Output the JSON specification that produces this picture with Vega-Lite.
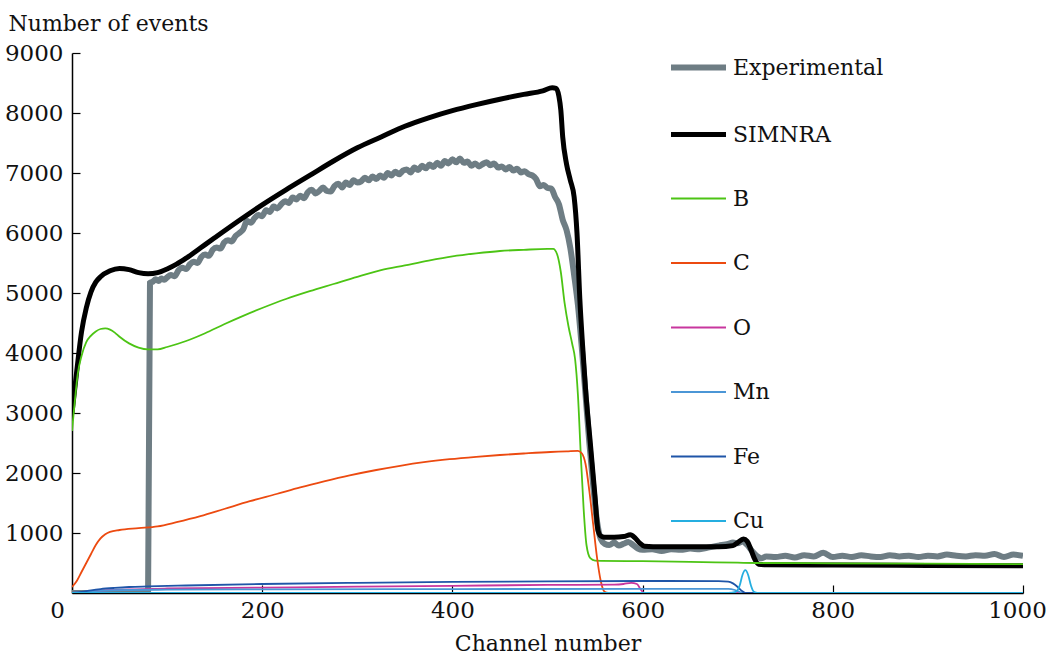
{
  "$schema": "https://vega.github.io/schema/vega-lite/v6.json",
  "width": 951,
  "height": 540,
  "autosize": "none",
  "padding": {"left": 72, "top": 53, "right": 28, "bottom": 63},
  "background": "white",
  "config": {
    "view": {"stroke": null},
    "font": "DejaVu Serif",
    "axis": {"grid": false, "domainColor": "#000000", "domainWidth": 1.5, "tickColor": "#000000", "tickWidth": 1.2, "labelFont": "DejaVu Serif", "labelFontSize": 23, "labelColor": "#111111", "titleFont": "DejaVu Serif", "titleFontSize": 22, "titleFontWeight": "normal", "titleColor": "#111111"},
    "legend": {"labelFont": "DejaVu Serif", "labelFontSize": 22, "labelColor": "#111111"}
  },
  "datasets": {
    "d": [
      {"s":"Experimental","x":0,"y":0},{"s":"Experimental","x":80,"y":0},{"s":"Experimental","x":82,"y":5170},{"s":"Experimental","x":85,"y":5190},{"s":"Experimental","x":88,"y":5230},{"s":"Experimental","x":91,"y":5200},{"s":"Experimental","x":94,"y":5240},{"s":"Experimental","x":97,"y":5220},{"s":"Experimental","x":100,"y":5260},{"s":"Experimental","x":104,"y":5300},{"s":"Experimental","x":108,"y":5280},{"s":"Experimental","x":112,"y":5380},{"s":"Experimental","x":116,"y":5420},{"s":"Experimental","x":120,"y":5400},{"s":"Experimental","x":124,"y":5480},{"s":"Experimental","x":128,"y":5520},{"s":"Experimental","x":132,"y":5500},{"s":"Experimental","x":136,"y":5600},{"s":"Experimental","x":140,"y":5640},{"s":"Experimental","x":144,"y":5620},{"s":"Experimental","x":148,"y":5720},{"s":"Experimental","x":152,"y":5760},{"s":"Experimental","x":156,"y":5740},{"s":"Experimental","x":160,"y":5840},{"s":"Experimental","x":164,"y":5880},{"s":"Experimental","x":168,"y":5860},{"s":"Experimental","x":172,"y":5950},{"s":"Experimental","x":176,"y":6000},{"s":"Experimental","x":180,"y":6060},{"s":"Experimental","x":184,"y":6200},{"s":"Experimental","x":188,"y":6170},{"s":"Experimental","x":192,"y":6250},{"s":"Experimental","x":196,"y":6300},{"s":"Experimental","x":200,"y":6280},{"s":"Experimental","x":204,"y":6380},{"s":"Experimental","x":208,"y":6350},{"s":"Experimental","x":212,"y":6440},{"s":"Experimental","x":216,"y":6410},{"s":"Experimental","x":220,"y":6480},{"s":"Experimental","x":224,"y":6530},{"s":"Experimental","x":228,"y":6500},{"s":"Experimental","x":232,"y":6590},{"s":"Experimental","x":236,"y":6560},{"s":"Experimental","x":240,"y":6620},{"s":"Experimental","x":244,"y":6580},{"s":"Experimental","x":248,"y":6680},{"s":"Experimental","x":252,"y":6720},{"s":"Experimental","x":256,"y":6660},{"s":"Experimental","x":260,"y":6700},{"s":"Experimental","x":264,"y":6760},{"s":"Experimental","x":268,"y":6700},{"s":"Experimental","x":272,"y":6690},{"s":"Experimental","x":276,"y":6780},{"s":"Experimental","x":280,"y":6820},{"s":"Experimental","x":284,"y":6760},{"s":"Experimental","x":288,"y":6840},{"s":"Experimental","x":292,"y":6800},{"s":"Experimental","x":296,"y":6880},{"s":"Experimental","x":300,"y":6840},{"s":"Experimental","x":304,"y":6860},{"s":"Experimental","x":308,"y":6920},{"s":"Experimental","x":312,"y":6880},{"s":"Experimental","x":316,"y":6940},{"s":"Experimental","x":320,"y":6900},{"s":"Experimental","x":324,"y":6960},{"s":"Experimental","x":328,"y":6920},{"s":"Experimental","x":332,"y":7000},{"s":"Experimental","x":336,"y":6960},{"s":"Experimental","x":340,"y":7020},{"s":"Experimental","x":344,"y":6980},{"s":"Experimental","x":348,"y":7040},{"s":"Experimental","x":352,"y":7060},{"s":"Experimental","x":356,"y":7010},{"s":"Experimental","x":360,"y":7090},{"s":"Experimental","x":364,"y":7050},{"s":"Experimental","x":368,"y":7120},{"s":"Experimental","x":372,"y":7080},{"s":"Experimental","x":376,"y":7140},{"s":"Experimental","x":380,"y":7100},{"s":"Experimental","x":384,"y":7170},{"s":"Experimental","x":388,"y":7120},{"s":"Experimental","x":392,"y":7200},{"s":"Experimental","x":396,"y":7160},{"s":"Experimental","x":400,"y":7230},{"s":"Experimental","x":404,"y":7180},{"s":"Experimental","x":408,"y":7240},{"s":"Experimental","x":412,"y":7170},{"s":"Experimental","x":416,"y":7190},{"s":"Experimental","x":420,"y":7120},{"s":"Experimental","x":424,"y":7160},{"s":"Experimental","x":428,"y":7110},{"s":"Experimental","x":432,"y":7150},{"s":"Experimental","x":436,"y":7180},{"s":"Experimental","x":440,"y":7130},{"s":"Experimental","x":444,"y":7160},{"s":"Experimental","x":448,"y":7090},{"s":"Experimental","x":452,"y":7110},{"s":"Experimental","x":456,"y":7060},{"s":"Experimental","x":460,"y":7100},{"s":"Experimental","x":464,"y":7040},{"s":"Experimental","x":468,"y":7070},{"s":"Experimental","x":472,"y":7010},{"s":"Experimental","x":476,"y":7030},{"s":"Experimental","x":480,"y":6980},{"s":"Experimental","x":484,"y":6960},{"s":"Experimental","x":488,"y":6900},{"s":"Experimental","x":492,"y":6780},{"s":"Experimental","x":496,"y":6800},{"s":"Experimental","x":500,"y":6750},{"s":"Experimental","x":504,"y":6740},{"s":"Experimental","x":508,"y":6600},{"s":"Experimental","x":512,"y":6480},{"s":"Experimental","x":516,"y":6220},{"s":"Experimental","x":520,"y":6050},{"s":"Experimental","x":524,"y":5750},{"s":"Experimental","x":528,"y":5300},{"s":"Experimental","x":532,"y":4800},{"s":"Experimental","x":536,"y":4100},{"s":"Experimental","x":540,"y":3300},{"s":"Experimental","x":544,"y":2500},{"s":"Experimental","x":548,"y":1800},{"s":"Experimental","x":552,"y":1200},{"s":"Experimental","x":556,"y":900},{"s":"Experimental","x":560,"y":820},{"s":"Experimental","x":565,"y":800},{"s":"Experimental","x":570,"y":840},{"s":"Experimental","x":575,"y":790},{"s":"Experimental","x":580,"y":820},{"s":"Experimental","x":585,"y":850},{"s":"Experimental","x":590,"y":800},{"s":"Experimental","x":595,"y":740},{"s":"Experimental","x":600,"y":720},{"s":"Experimental","x":610,"y":730},{"s":"Experimental","x":620,"y":700},{"s":"Experimental","x":630,"y":730},{"s":"Experimental","x":640,"y":720},{"s":"Experimental","x":650,"y":740},{"s":"Experimental","x":660,"y":730},{"s":"Experimental","x":670,"y":760},{"s":"Experimental","x":680,"y":790},{"s":"Experimental","x":690,"y":820},{"s":"Experimental","x":695,"y":840},{"s":"Experimental","x":700,"y":830},{"s":"Experimental","x":705,"y":860},{"s":"Experimental","x":710,"y":800},{"s":"Experimental","x":715,"y":700},{"s":"Experimental","x":720,"y":620},{"s":"Experimental","x":725,"y":580},{"s":"Experimental","x":730,"y":610},{"s":"Experimental","x":740,"y":600},{"s":"Experimental","x":750,"y":620},{"s":"Experimental","x":760,"y":590},{"s":"Experimental","x":770,"y":630},{"s":"Experimental","x":780,"y":610},{"s":"Experimental","x":790,"y":670},{"s":"Experimental","x":800,"y":600},{"s":"Experimental","x":810,"y":620},{"s":"Experimental","x":820,"y":600},{"s":"Experimental","x":830,"y":630},{"s":"Experimental","x":840,"y":610},{"s":"Experimental","x":850,"y":600},{"s":"Experimental","x":860,"y":630},{"s":"Experimental","x":870,"y":610},{"s":"Experimental","x":880,"y":620},{"s":"Experimental","x":890,"y":600},{"s":"Experimental","x":900,"y":620},{"s":"Experimental","x":910,"y":610},{"s":"Experimental","x":920,"y":640},{"s":"Experimental","x":930,"y":620},{"s":"Experimental","x":940,"y":610},{"s":"Experimental","x":950,"y":630},{"s":"Experimental","x":960,"y":620},{"s":"Experimental","x":970,"y":650},{"s":"Experimental","x":980,"y":600},{"s":"Experimental","x":990,"y":640},{"s":"Experimental","x":1000,"y":620},

      {"s":"SIMNRA","x":0,"y":3000},{"s":"SIMNRA","x":5,"y":3700},{"s":"SIMNRA","x":10,"y":4350},{"s":"SIMNRA","x":15,"y":4750},{"s":"SIMNRA","x":20,"y":5020},{"s":"SIMNRA","x":25,"y":5180},{"s":"SIMNRA","x":30,"y":5270},{"s":"SIMNRA","x":40,"y":5370},{"s":"SIMNRA","x":50,"y":5410},{"s":"SIMNRA","x":60,"y":5390},{"s":"SIMNRA","x":70,"y":5340},{"s":"SIMNRA","x":80,"y":5320},{"s":"SIMNRA","x":90,"y":5340},{"s":"SIMNRA","x":100,"y":5400},{"s":"SIMNRA","x":110,"y":5480},{"s":"SIMNRA","x":120,"y":5580},{"s":"SIMNRA","x":135,"y":5750},{"s":"SIMNRA","x":150,"y":5920},{"s":"SIMNRA","x":175,"y":6200},{"s":"SIMNRA","x":200,"y":6470},{"s":"SIMNRA","x":225,"y":6720},{"s":"SIMNRA","x":250,"y":6960},{"s":"SIMNRA","x":275,"y":7200},{"s":"SIMNRA","x":300,"y":7420},{"s":"SIMNRA","x":325,"y":7600},{"s":"SIMNRA","x":350,"y":7780},{"s":"SIMNRA","x":375,"y":7920},{"s":"SIMNRA","x":400,"y":8040},{"s":"SIMNRA","x":425,"y":8140},{"s":"SIMNRA","x":450,"y":8230},{"s":"SIMNRA","x":475,"y":8310},{"s":"SIMNRA","x":495,"y":8370},{"s":"SIMNRA","x":505,"y":8420},{"s":"SIMNRA","x":509,"y":8410},{"s":"SIMNRA","x":512,"y":8280},{"s":"SIMNRA","x":514,"y":8050},{"s":"SIMNRA","x":516,"y":7600},{"s":"SIMNRA","x":520,"y":7150},{"s":"SIMNRA","x":524,"y":6880},{"s":"SIMNRA","x":528,"y":6600},{"s":"SIMNRA","x":531,"y":6000},{"s":"SIMNRA","x":534,"y":4900},{"s":"SIMNRA","x":537,"y":4100},{"s":"SIMNRA","x":540,"y":3400},{"s":"SIMNRA","x":545,"y":2500},{"s":"SIMNRA","x":550,"y":1600},{"s":"SIMNRA","x":553,"y":1050},{"s":"SIMNRA","x":556,"y":950},{"s":"SIMNRA","x":560,"y":930},{"s":"SIMNRA","x":570,"y":930},{"s":"SIMNRA","x":580,"y":940},{"s":"SIMNRA","x":587,"y":970},{"s":"SIMNRA","x":592,"y":920},{"s":"SIMNRA","x":597,"y":830},{"s":"SIMNRA","x":602,"y":780},{"s":"SIMNRA","x":620,"y":770},{"s":"SIMNRA","x":650,"y":770},{"s":"SIMNRA","x":680,"y":770},{"s":"SIMNRA","x":695,"y":790},{"s":"SIMNRA","x":700,"y":840},{"s":"SIMNRA","x":706,"y":900},{"s":"SIMNRA","x":710,"y":860},{"s":"SIMNRA","x":714,"y":720},{"s":"SIMNRA","x":718,"y":560},{"s":"SIMNRA","x":722,"y":480},{"s":"SIMNRA","x":730,"y":470},{"s":"SIMNRA","x":800,"y":465},{"s":"SIMNRA","x":900,"y":460},{"s":"SIMNRA","x":1000,"y":455},

      {"s":"B","x":0,"y":2700},{"s":"B","x":3,"y":3200},{"s":"B","x":6,"y":3650},{"s":"B","x":10,"y":3950},{"s":"B","x":15,"y":4180},{"s":"B","x":20,"y":4290},{"s":"B","x":25,"y":4360},{"s":"B","x":30,"y":4400},{"s":"B","x":35,"y":4410},{"s":"B","x":40,"y":4390},{"s":"B","x":45,"y":4340},{"s":"B","x":50,"y":4270},{"s":"B","x":60,"y":4160},{"s":"B","x":70,"y":4090},{"s":"B","x":80,"y":4060},{"s":"B","x":90,"y":4060},{"s":"B","x":100,"y":4100},{"s":"B","x":120,"y":4200},{"s":"B","x":140,"y":4330},{"s":"B","x":160,"y":4480},{"s":"B","x":180,"y":4620},{"s":"B","x":200,"y":4750},{"s":"B","x":225,"y":4900},{"s":"B","x":250,"y":5030},{"s":"B","x":275,"y":5150},{"s":"B","x":300,"y":5270},{"s":"B","x":325,"y":5380},{"s":"B","x":350,"y":5460},{"s":"B","x":375,"y":5540},{"s":"B","x":400,"y":5610},{"s":"B","x":425,"y":5660},{"s":"B","x":450,"y":5700},{"s":"B","x":475,"y":5720},{"s":"B","x":500,"y":5735},{"s":"B","x":506,"y":5735},{"s":"B","x":510,"y":5650},{"s":"B","x":514,"y":5350},{"s":"B","x":518,"y":4830},{"s":"B","x":522,"y":4450},{"s":"B","x":526,"y":4150},{"s":"B","x":529,"y":3900},{"s":"B","x":532,"y":3300},{"s":"B","x":535,"y":2300},{"s":"B","x":538,"y":1400},{"s":"B","x":541,"y":800},{"s":"B","x":545,"y":580},{"s":"B","x":550,"y":540},{"s":"B","x":600,"y":530},{"s":"B","x":650,"y":520},{"s":"B","x":700,"y":505},{"s":"B","x":720,"y":500},{"s":"B","x":800,"y":495},{"s":"B","x":900,"y":488},{"s":"B","x":1000,"y":480},

      {"s":"C","x":0,"y":100},{"s":"C","x":5,"y":200},{"s":"C","x":10,"y":350},{"s":"C","x":15,"y":500},{"s":"C","x":20,"y":650},{"s":"C","x":25,"y":800},{"s":"C","x":30,"y":910},{"s":"C","x":35,"y":980},{"s":"C","x":40,"y":1020},{"s":"C","x":50,"y":1050},{"s":"C","x":70,"y":1080},{"s":"C","x":90,"y":1110},{"s":"C","x":110,"y":1180},{"s":"C","x":135,"y":1280},{"s":"C","x":160,"y":1400},{"s":"C","x":187,"y":1530},{"s":"C","x":215,"y":1650},{"s":"C","x":240,"y":1760},{"s":"C","x":265,"y":1860},{"s":"C","x":292,"y":1960},{"s":"C","x":320,"y":2050},{"s":"C","x":345,"y":2120},{"s":"C","x":370,"y":2180},{"s":"C","x":397,"y":2230},{"s":"C","x":425,"y":2270},{"s":"C","x":450,"y":2300},{"s":"C","x":475,"y":2325},{"s":"C","x":503,"y":2350},{"s":"C","x":520,"y":2360},{"s":"C","x":532,"y":2370},{"s":"C","x":536,"y":2330},{"s":"C","x":540,"y":2150},{"s":"C","x":544,"y":1700},{"s":"C","x":548,"y":1150},{"s":"C","x":552,"y":600},{"s":"C","x":556,"y":200},{"s":"C","x":560,"y":20},{"s":"C","x":564,"y":0},{"s":"C","x":1000,"y":0},

      {"s":"O","x":0,"y":0},{"s":"O","x":10,"y":15},{"s":"O","x":30,"y":40},{"s":"O","x":60,"y":60},{"s":"O","x":100,"y":75},{"s":"O","x":200,"y":90},{"s":"O","x":300,"y":105},{"s":"O","x":400,"y":120},{"s":"O","x":500,"y":135},{"s":"O","x":570,"y":140},{"s":"O","x":580,"y":150},{"s":"O","x":588,"y":170},{"s":"O","x":594,"y":150},{"s":"O","x":598,"y":60},{"s":"O","x":602,"y":0},{"s":"O","x":1000,"y":0},

      {"s":"Mn","x":0,"y":0},{"s":"Mn","x":10,"y":15},{"s":"Mn","x":30,"y":35},{"s":"Mn","x":60,"y":50},{"s":"Mn","x":100,"y":55},{"s":"Mn","x":200,"y":60},{"s":"Mn","x":400,"y":65},{"s":"Mn","x":600,"y":70},{"s":"Mn","x":690,"y":70},{"s":"Mn","x":697,"y":50},{"s":"Mn","x":703,"y":10},{"s":"Mn","x":708,"y":0},{"s":"Mn","x":1000,"y":0},

      {"s":"Fe","x":0,"y":0},{"s":"Fe","x":10,"y":20},{"s":"Fe","x":20,"y":45},{"s":"Fe","x":30,"y":65},{"s":"Fe","x":45,"y":85},{"s":"Fe","x":60,"y":100},{"s":"Fe","x":80,"y":110},{"s":"Fe","x":120,"y":125},{"s":"Fe","x":200,"y":150},{"s":"Fe","x":300,"y":170},{"s":"Fe","x":400,"y":185},{"s":"Fe","x":500,"y":195},{"s":"Fe","x":600,"y":200},{"s":"Fe","x":680,"y":198},{"s":"Fe","x":690,"y":190},{"s":"Fe","x":695,"y":160},{"s":"Fe","x":700,"y":100},{"s":"Fe","x":704,"y":40},{"s":"Fe","x":708,"y":0},{"s":"Fe","x":1000,"y":0},

      {"s":"Cu","x":0,"y":0},{"s":"Cu","x":690,"y":0},{"s":"Cu","x":698,"y":20},{"s":"Cu","x":702,"y":120},{"s":"Cu","x":705,"y":300},{"s":"Cu","x":708,"y":380},{"s":"Cu","x":711,"y":300},{"s":"Cu","x":714,"y":120},{"s":"Cu","x":717,"y":20},{"s":"Cu","x":721,"y":0},{"s":"Cu","x":1000,"y":0}
    ]
  },
  "data": {"name": "d"},
  "mark": {"type": "line", "interpolate": "monotone", "clip": true},
  "encoding": {
    "x": {"field": "x", "type": "quantitative", "scale": {"domain": [0, 1000], "nice": false},
      "axis": {"values": [0, 200, 400, 600, 800, 1000], "format": "d", "tickSize": -8, "labelPadding": 14, "labelFlush": false, "labelOffset": {"condition": [{"test": "datum.value === 0", "value": -15}, {"test": "datum.value === 1000", "value": -6}], "value": 0}, "title": "Channel number", "titleX": 475.5, "titleY": 57, "titleBaseline": "alphabetic", "titleAlign": "center"}},
    "y": {"field": "y", "type": "quantitative", "scale": {"domain": [0, 9000], "nice": false},
      "axis": {"values": [1000, 2000, 3000, 4000, 5000, 6000, 7000, 8000, 9000], "format": "d", "tickSize": -8, "labelPadding": 17, "title": "Number of events", "titleAngle": 0, "titleX": -64, "titleY": -23, "titleAlign": "left", "titleBaseline": "alphabetic"}},
    "color": {"field": "s", "type": "nominal",
      "scale": {"domain": ["Experimental", "SIMNRA", "B", "C", "O", "Mn", "Fe", "Cu"], "range": ["#6e7d84", "#000000", "#4cc414", "#ec4a10", "#c8369e", "#4b96d6", "#1f55a8", "#25aee0"]},
      "legend": {"title": null, "orient": "none", "legendX": 596, "legendY": -16, "padding": 0, "symbolType": "stroke", "symbolSize": 3025, "rowPadding": 24.5, "labelOffset": 4}},
    "strokeWidth": {"field": "s", "type": "nominal",
      "scale": {"type": "ordinal", "domain": ["Experimental", "SIMNRA", "B", "C", "O", "Mn", "Fe", "Cu"], "range": [6, 5, 1.8, 1.8, 1.8, 1.8, 1.8, 1.8]},
      "legend": {"title": null, "orient": "none", "legendX": 596, "legendY": -16, "padding": 0, "symbolType": "stroke", "symbolSize": 3025, "rowPadding": 24.5, "labelOffset": 4}}
  }
}
